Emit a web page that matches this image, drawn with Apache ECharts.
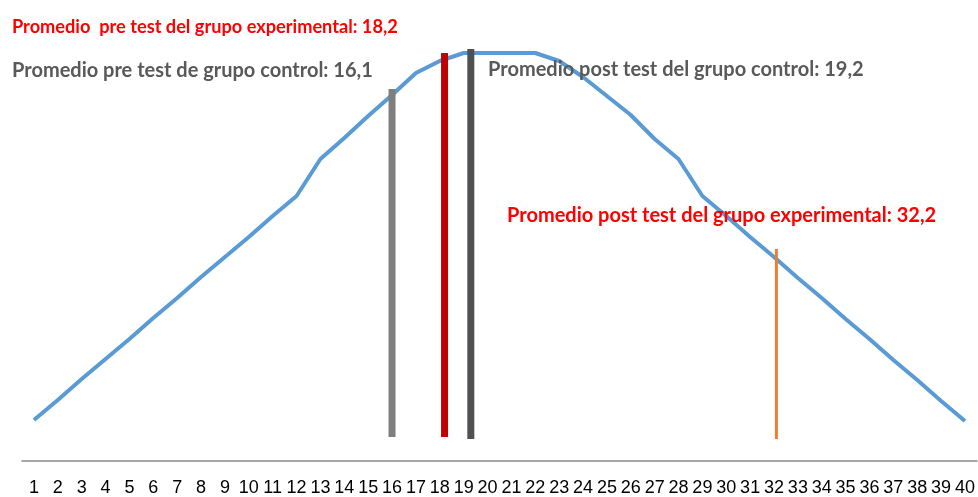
<!DOCTYPE html>
<html>
<head>
<meta charset="utf-8">
<script src="https://cdn.jsdelivr.net/npm/echarts@6/dist/echarts.min.js"></script>
<style>
  html, body { margin: 0; padding: 0; background: #fff; }
  #chart { width: 978px; height: 497px; }
</style>
</head>
<body>
<div id="chart"></div>
<script>
// puntajes 1..40 y la curva
var puntajes = [];
for (var i = 1; i <= 40; i++) puntajes.push(i);
var curva = [4.1, 6.1, 8.2, 10.2, 12.2, 14.3, 16.3, 18.4, 20.4, 22.4,
             24.5, 26.5, 30.2, 32.3, 34.5, 36.6, 38.8, 40.0, 40.8, 40.8,
             40.8, 40.8, 40.0, 38.4, 36.5, 34.6, 32.2, 30.2, 26.5, 24.5,
             22.4, 20.4, 18.3, 16.3, 14.2, 12.2, 10.1, 8.1, 6.0, 4.0];

// lineas de promedio: posicion x, base y tope
var promX = [16.0, 18.2, 19.3, 32.1];
var promBase = [2.4, 2.4, 2.2, 2.2];
var promTope = [37.2, 40.8, 41.2, 21.2];
var promColor = ['#7f7f7f', '#c00000', '#505050', '#ed7d31'];
var promAncho = [7, 7, 7, 3];

var textos = [
    'Promedio  pre test del grupo experimental: 18,2',
    'Promedio pre test de grupo control: 16,1',
    'Promedio post test del grupo control: 19,2',
    'Promedio post test del grupo experimental: 32,2'
];

var chart = echarts.init(document.getElementById('chart'));

var series = [{
    type: 'line',
    data: puntajes.map(function (p, k) { return [p, curva[k]]; }),
    symbol: 'none',
    lineStyle: { color: '#5b9bd5', width: 4 },
    silent: true
}];
promX.forEach(function (x, k) {
    series.push({
        type: 'line',
        data: [[x, promBase[k]], [x, promTope[k]]],
        symbol: 'none',
        lineStyle: { color: promColor[k], width: promAncho[k], cap: 'butt' },
        silent: true
    });
});

function texto(t, x, y, color, size) {
    return {
        type: 'text', x: x, y: y, z: 10,
        style: { text: t, fill: color, fontFamily: 'Lato', fontWeight: 'bold', fontSize: size, verticalAlign: 'middle' }
    };
}

var option = {
    animation: false,
    grid: { left: 22, right: 0, top: 41, bottom: 36 },
    xAxis: {
        type: 'value',
        min: 0.5,
        max: 40.5,
        axisLine: { show: true, lineStyle: { color: '#898989', width: 1.5 } },
        axisTick: { show: false },
        splitLine: { show: false },
        axisLabel: {
            customValues: puntajes,
            margin: 18,
            color: '#000',
            fontSize: 18,
            fontFamily: 'Liberation Sans'
        }
    },
    yAxis: {
        type: 'value',
        min: 0,
        max: 42,
        show: false,
        splitLine: { show: false }
    },
    graphic: [
        texto(textos[0], 12, 27, '#ff0000', 18.2),
        texto(textos[1], 12, 71, '#595959', 20),
        texto(textos[2], 488, 70, '#595959', 20),
        texto(textos[3], 507, 216, '#ff0000', 20)
    ],
    series: series
};

chart.setOption(option);
</script>
</body>
</html>
